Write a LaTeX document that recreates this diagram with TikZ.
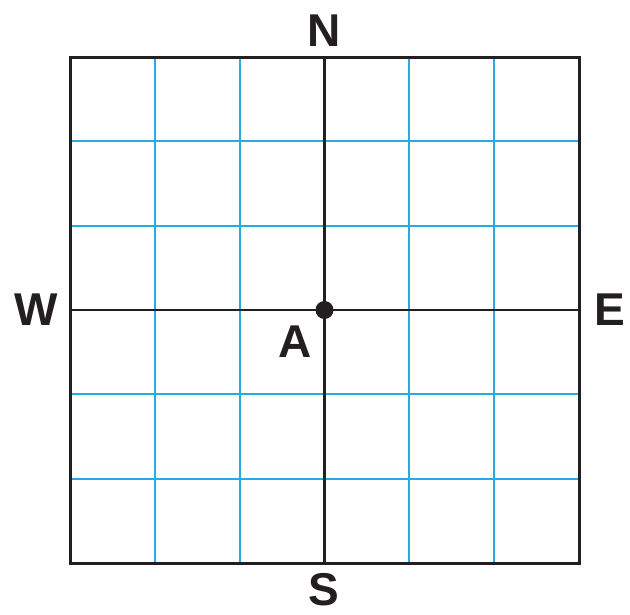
\documentclass[tikz,border=0pt]{standalone}
\usepackage{fontspec}
\setmainfont{Liberation Sans}
\definecolor{gridblue}{HTML}{29ABE2}
\definecolor{ink}{HTML}{231F20}
\begin{document}
\begin{tikzpicture}[x=1pt,y=-1pt,
  lbl/.style={inner sep=0pt, anchor=center, text=ink, font=\fontsize{46}{46}\selectfont\bfseries},
  thin grid/.style={draw=gridblue, line width=1.8pt},
  axis/.style={draw=ink, line width=2.4pt},
  frame/.style={draw=ink, line width=3pt}]
\useasboundingbox (0,0) rectangle (630,614);
\fill[white] (0,0) rectangle (630,614);
% blue grid
\foreach \i in {1,2,4,5} {
  \draw[thin grid] ({70+\i*84.83},57) -- ({70+\i*84.83},563);
  \draw[thin grid] (70,{57+\i*84.33}) -- (579,{57+\i*84.33});
}
% axes
\coordinate (ntop) at (324.5,57);
\coordinate (sbot) at (324.5,563);
\coordinate (wleft) at (70,310);
\coordinate (eright) at (579,310);
\draw[axis] (ntop) -- (sbot);
\draw[axis] (wleft) -- (eright);
% frame
\draw[frame] (70,57) rectangle (579,563);
% dot
\node[circle, fill=ink, inner sep=0pt, minimum size=18pt] (dot) at (324.5,310) {};
% labels
\node[lbl] (N) at (324,31) {N};
\node[lbl] (S) at (324,590) {S};
\node[lbl] (W) at (36,310) {W};
\node[lbl] (E) at (610,310) {E};
\node[lbl] (A) at (295,342) {A};
\end{tikzpicture}
\end{document}
